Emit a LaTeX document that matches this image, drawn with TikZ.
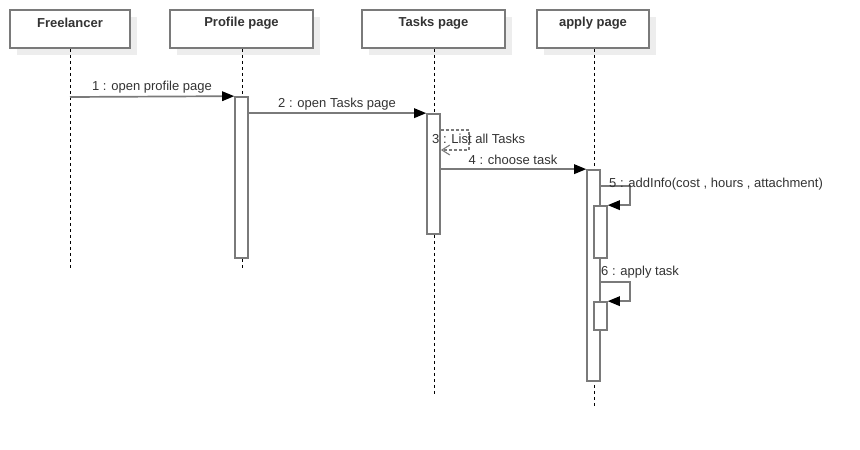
\documentclass[tikz,border=0pt]{standalone}
\usepackage{fontspec}
\setmainfont{Liberation Sans}
\usetikzlibrary{arrows.meta}
\definecolor{linegray}{HTML}{7A7A7A}
\definecolor{txt}{HTML}{333333}
\definecolor{shadowgray}{HTML}{EDEDED}
\tikzset{
  actorbox/.style={draw=linegray, line width=1.7pt, fill=white, minimum height=38pt, inner sep=0pt},
  actorshadow/.style={fill=shadowgray, draw=none},
  actortext/.style={font=\fontsize{13}{15}\selectfont\bfseries, text=txt, inner sep=0pt},
  lifeline/.style={draw=black, line width=1pt, dash pattern=on 3pt off 3pt},
  actbar/.style={draw=linegray, line width=1.7pt, fill=white, minimum width=13pt, inner sep=0pt},
  msg/.style={draw=linegray, line width=1.7pt, -{Triangle[length=12pt,width=10pt,fill=black,line width=0pt]}},
  retmsg/.style={draw=linegray, line width=1.2pt, dash pattern=on 3pt off 2pt, -{Straight Barb[length=8pt,width=10pt,line width=1.1pt]}},
  lbl/.style={font=\fontsize{13}{15}\selectfont, text=txt, inner sep=0pt}
}
\begin{document}
\begin{tikzpicture}[x=1pt,y=-1pt]
\useasboundingbox (0,0) rectangle (860,450);
% shadows
\fill[actorshadow] (17,17) rectangle (137,55);
\fill[actorshadow] (177,17) rectangle (320,55);
\fill[actorshadow] (369,17) rectangle (512,55);
\fill[actorshadow] (544,17) rectangle (656,55);
% actor boxes
\node[actorbox, minimum width=120pt] (fr) at (70,29) {};
\node[actorbox, minimum width=143pt] (pp) at (241.5,29) {};
\node[actorbox, minimum width=143pt] (tp) at (433.5,29) {};
\node[actorbox, minimum width=112pt] (ap) at (593,29) {};
\node[actortext] (frt) at (70,23) {Freelancer};
\node[actortext] (ppt) at (241.5,23) {Profile page};
\node[actortext] (tpt) at (433.5,23) {Tasks page};
\node[actortext] (apt) at (593,23) {apply page};
% lifeline ends
\coordinate (frend) at (70,268);
\coordinate (ppend) at (242,268);
\coordinate (tpend) at (434,395);
\coordinate (apend) at (594,406);
\draw[lifeline] (fr.south -| frend) -- (frend);
\draw[lifeline] (pp.south -| ppend) -- (ppend);
\draw[lifeline] (tp.south -| tpend) -- (tpend);
\draw[lifeline] (ap.south -| apend) -- (apend);
% activations
\node[actbar, minimum height=161pt] (a1) at (241.5,177.5) {};
\node[actbar, minimum height=120pt] (a2) at (433.5,174) {};
\node[actbar, minimum height=211pt] (a3) at (593.5,275.5) {};
\node[actbar, minimum height=52pt] (a4) at (600.5,232) {};
\node[actbar, minimum height=28pt] (a5) at (600.5,316) {};
% message 1
\coordinate (m1s) at (70,97);
\draw[msg] (m1s) -- (a1.north west);
\node[lbl] (l1) at (152,87) {1 : open profile page};
% message 2
\draw[msg] (a1.north east |- a2.north) -- (a2.north west);
\node[lbl] (l2) at (337,104) {2 : open Tasks page};
% message 3 (self, return)
\coordinate (m3a) at (469,130);
\coordinate (m3b) at (469,150);
\draw[retmsg] (a2.east |- m3a) -- (m3a) -- (m3b) -- (a2.east |- m3b);
\node[lbl, anchor=west] (l3) at (432,139) {3 : List all Tasks};
% message 4
\draw[msg] (a2.east |- a3.north) -- (a3.north west);
\node[lbl] (l4) at (513,160) {4 : choose task};
% message 5
\coordinate (m5a) at (630,186);
\draw[msg] (a3.east |- m5a) -- (m5a) |- (a4.north east);
\node[lbl, anchor=west] (l5) at (609,184) {5 : addInfo(cost , hours , attachment)};
% message 6
\coordinate (m6a) at (630,282);
\draw[msg] (a3.east |- m6a) -- (m6a) |- (a5.north east);
\node[lbl, anchor=west] (l6) at (601,272) {6 : apply task};
\end{tikzpicture}
\end{document}
